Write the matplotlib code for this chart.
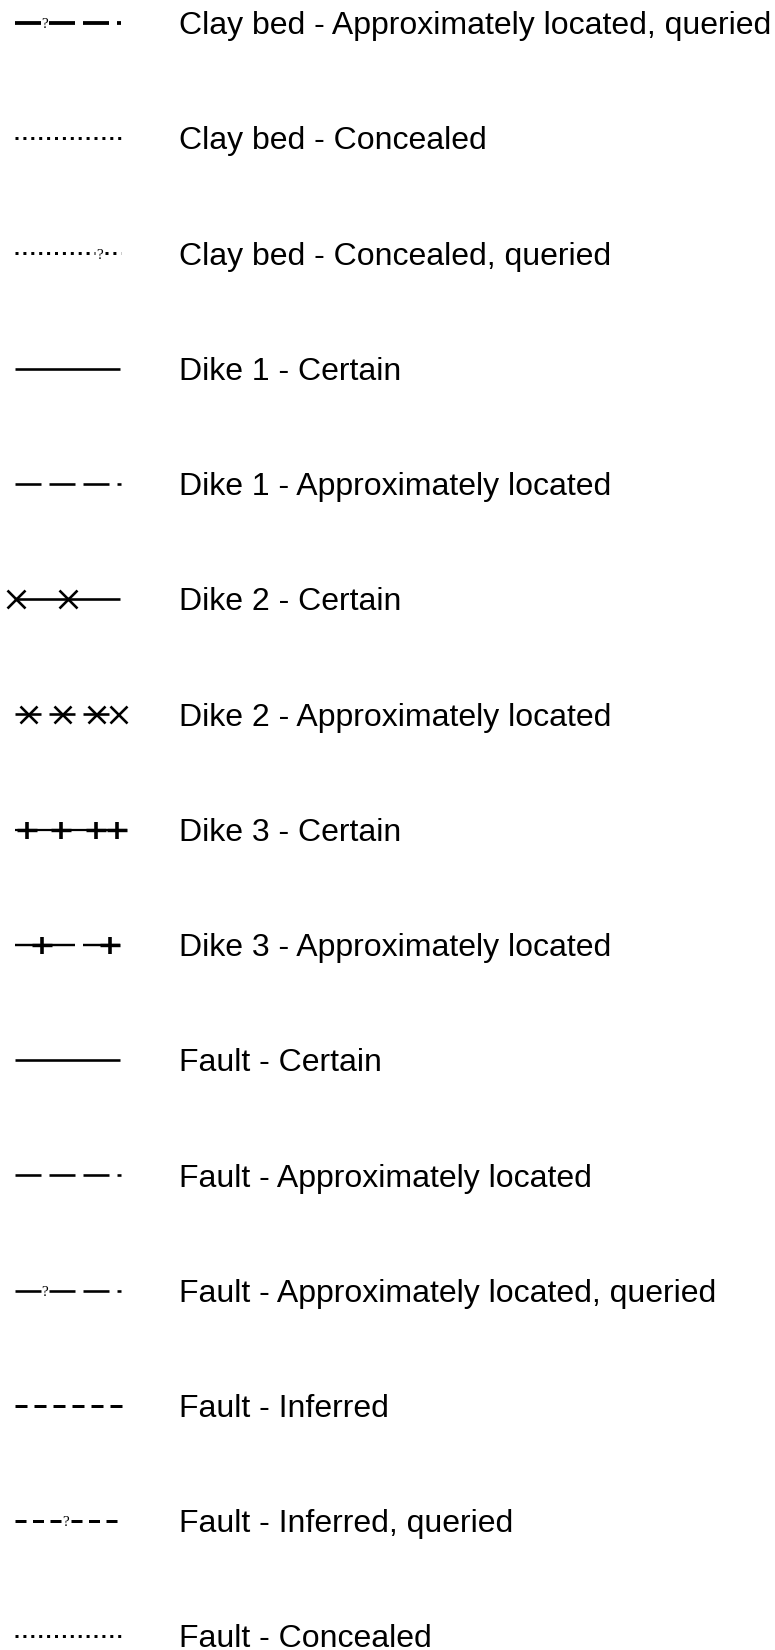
import matplotlib.pyplot as plt
import numpy as np

plt.rcParams['lines.scale_dashes'] = False

# legend entries (top to bottom)
labels = [
    "Clay bed - Approximately located, queried",
    "Clay bed - Concealed",
    "Clay bed - Concealed, queried",
    "Dike 1 - Certain",
    "Dike 1 - Approximately located",
    "Dike 2 - Certain",
    "Dike 2 - Approximately located",
    "Dike 3 - Certain",
    "Dike 3 - Approximately located",
    "Fault - Certain",
    "Fault - Approximately located",
    "Fault - Approximately located, queried",
    "Fault - Inferred",
    "Fault - Inferred, queried",
    "Fault - Concealed",
]
symbols = ["clay_queried", "dotted", "dotted_queried", "solid", "dashed",
           "dike2", "dike2_approx", "dike3", "dike3_approx", "solid",
           "dashed", "queried", "inferred", "inferred_queried", "dotted"]

PT = 0.72  # one pixel in points at dpi 100

fig = plt.figure(figsize=(7.75, 16.5), dpi=100)
ax = fig.add_axes([0, 0, 1, 1])
ax.set_xlim(0, 775)
ax.set_ylim(14.12, -0.2)
ax.axis('off')


def seg(y, xa, xb, lw, dashes=None):
    kw = {}
    if dashes is not None:
        kw['dashes'] = [d * PT for d in dashes]
    ax.plot([xa, xb], [y, y], color='black', lw=lw * PT,
            solid_capstyle='butt', dash_capstyle='butt', **kw)


def qmark(x, y):
    ax.text(x, y + 0.015, '?', fontsize=11, family='Liberation Serif',
            ha='center', va='center')


def marks(y, xs, m, size, mew):
    ax.plot(xs, [y] * len(xs), ls='none', marker=m, color='black',
            ms=size * PT, mew=mew * PT)


for i, (lab, sym) in enumerate(zip(labels, symbols)):
    y = i
    if sym in ("clay_queried", "queried"):
        lw = 3.8 if sym == "clay_queried" else 2.6
        seg(y, 15, 41, lw)
        qmark(45, y)
        seg(y, 49, 121, lw, (26, 8))
    elif sym == "dotted":
        seg(y, 15, 121, 3, (3, 4.9))
    elif sym == "dotted_queried":
        seg(y, 15, 95, 3, (3, 4.9))
        qmark(100, y)
        seg(y, 105, 121, 3, (3, 4.9))
    elif sym == "solid":
        seg(y, 15, 120, 2.6)
    elif sym == "dashed":
        seg(y, 15, 121, 2.6, (26, 8))
    elif sym == "dike2":
        seg(y, 15, 120, 2.6)
        marks(y, [16, 68], 'x', 18, 2.6)
    elif sym == "dike2_approx":
        seg(y, 15, 110, 2.6, (26, 8))
        marks(y, [28, 62, 96, 118], 'x', 17, 2.6)
    elif sym == "dike3":
        seg(y, 15, 127, 2.2)
        ticks = [27, 61, 96, 117]
        marks(y, ticks, '|', 17, 3.6)
        marks(y, ticks, '_', 20, 3.4)
    elif sym == "dike3_approx":
        seg(y, 15, 75, 2.4)
        seg(y, 83, 120, 2.4)
        ticks = [42, 110]
        marks(y, ticks, '|', 17, 3.6)
        marks(y, ticks, '_', 20, 3.4)
    elif sym == "inferred":
        seg(y, 15, 122, 3, (12, 7))
    elif sym == "inferred_queried":
        seg(y, 15, 61, 3, (11, 6.5))
        qmark(66, y)
        seg(y, 71, 118, 3, (11, 6.5))

    ax.text(179, y + 0.028, lab, fontsize=23, family='Liberation Sans',
            ha='left', va='center', color='black')

fig.savefig("out.png", dpi=100)
